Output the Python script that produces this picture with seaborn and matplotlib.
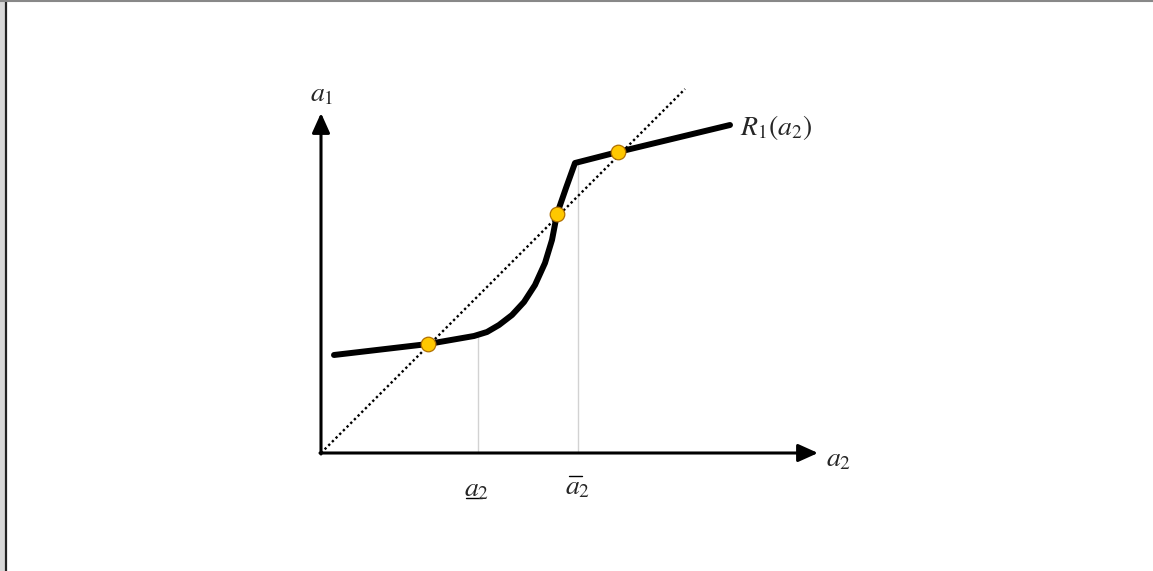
import numpy as np
import matplotlib
matplotlib.use("Agg")
import matplotlib.pyplot as plt
from matplotlib.lines import Line2D
from matplotlib.patches import Rectangle
import seaborn as sns

# best response R1(a2) (origin at the axes corner)
resp_x = [0.13, 1.07, 1.53, 1.66, 1.78, 1.91, 2.03, 2.14, 2.24, 2.31, 2.36, 2.45, 2.54, 2.97, 4.09]
resp_y = [0.98, 1.09, 1.17, 1.21, 1.28, 1.38, 1.51, 1.68, 1.90, 2.13, 2.39, 2.65, 2.90, 3.01, 3.28]
# 45 degree line
diag_x = [0.0, 3.64]
diag_y = [0.0, 3.64]
# equilibria (yellow dots)
eq_x = [1.07, 2.36, 2.97]
eq_y = [1.09, 2.39, 3.01]
# thresholds a2_low, a2_bar and the kink heights
kink_x = [1.565, 2.565]
kink_y = [1.17, 2.90]

sns.set_theme(style="white")
plt.rcParams["mathtext.fontset"] = "stix"
plt.rcParams["font.family"] = ["STIXGeneral", "DejaVu Serif"]

fig = plt.figure(figsize=(11.53, 5.71), dpi=100)
ax = fig.add_axes([0, 0, 1, 1])
ax.set_xlim(-3.21, 8.32)
ax.set_ylim(-1.18, 4.53)
ax.axis("off")

# axes with arrows
ax.annotate("", xy=(0, 3.40), xytext=(0, -0.01),
            arrowprops=dict(arrowstyle="-|>,head_length=1.0,head_width=0.45",
                            lw=2.2, color="black", shrinkA=0, shrinkB=0))
ax.annotate("", xy=(4.97, 0), xytext=(-0.01, 0),
            arrowprops=dict(arrowstyle="-|>,head_length=1.0,head_width=0.45",
                            lw=2.2, color="black", shrinkA=0, shrinkB=0))

# 45 degree dotted line
sns.lineplot(x=diag_x, y=diag_y, ax=ax, color="black", lw=1.7,
             linestyle=(0, (1, 1.2)), sort=False)

# vertical guides
for kx, ky in zip(kink_x, kink_y):
    sns.lineplot(x=[kx, kx], y=[0, ky], ax=ax, color="#222222", lw=1.1,
                 linestyle=(0, (1, 1.5)), sort=False, zorder=3)

# best response curve
sns.lineplot(x=resp_x, y=resp_y, ax=ax, color="black", lw=4.3, sort=False)

# equilibrium points
sns.scatterplot(x=eq_x, y=eq_y, ax=ax, color="#FFC800", edgecolor="#B07000",
                linewidth=0.9, s=110, zorder=5)

# labels
fs = 20
ax.text(0.01, 3.58, r"$a_1$", fontsize=fs, ha="center", va="center")
ax.text(5.05, -0.07, r"$a_2$", fontsize=fs, ha="left", va="center")
ax.text(4.19, 3.26, r"$R_1(a_2)$", fontsize=fs, ha="left", va="center")
ax.text(1.56, -0.37, r"$a_2$", fontsize=fs, ha="center", va="center")
ax.plot([1.45, 1.61], [-0.45, -0.45], color="black", lw=1.0)
ax.text(2.57, -0.35, r"$a_2$", fontsize=fs, ha="center", va="center")
ax.plot([2.48, 2.61], [-0.23, -0.23], color="black", lw=1.0)

# picture frame
fig.add_artist(Rectangle((0, 0), 5 / 1153, 1, transform=fig.transFigure,
                         color="#d8d8d8", lw=0))
fig.add_artist(Line2D([5.5 / 1153, 5.5 / 1153], [0, 1], transform=fig.transFigure,
                      color="#222222", lw=1.6))
fig.add_artist(Line2D([0, 1], [1 - 1 / 571, 1 - 1 / 571], transform=fig.transFigure,
                      color="#888888", lw=1.5))

fig.savefig("out.png", dpi=100)
